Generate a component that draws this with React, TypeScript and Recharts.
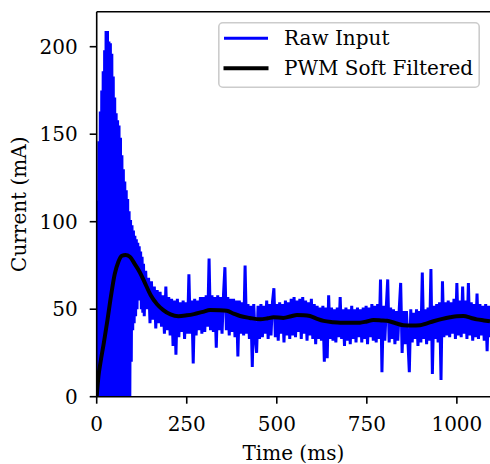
import React from 'react';
import { ComposedChart, Line, XAxis, YAxis, ReferenceLine, Legend, Label } from 'recharts';

// start-up ripple, one sample every 2 ms from t = 0 to 132 ms
const START_DT = 2;
const startCurrent: number[] = [
  1, 112, 0, 146, 0, 163, 0, 175, 0, 186,
  0, 198, 0, 209, 0, 209, 0, 203, 0, 202,
  0, 196, 0, 183, 0, 171, 0, 162, 0, 158,
  0, 155, 0, 148, 0, 138, 0, 130, 0, 123,
  0, 118, 0, 113, 0, 106, 0, 101, 20, 98,
  38, 95, 42, 92, 46, 90, 50, 88, 55, 86,
  56, 83, 50, 80, 48, 76, 46,
];

// settled signal, one sample every 4 ms from t = 136 ms
const SETTLED_T0 = 136;
const SETTLED_DT = 4;
const settledCurrent: number[] = [
  72, 50, 68, 42, 66, 44, 63, 39, 61, 42,
  60, 40, 58, 36, 63, 38, 57, 35, 56, 29,
  55, 24, 56, 34, 54, 37, 55, 33, 54, 36,
  70, 36, 55, 19, 56, 35, 55, 38, 57, 36,
  57, 37, 58, 40, 79, 38, 58, 37, 57, 28,
  58, 38, 57, 36, 58, 74, 38, 57, 35, 56,
  37, 56, 34, 55, 23, 55, 36, 54, 35, 75,
  36, 53, 33, 52, 17, 53, 34, 25, 52, 33,
  53, 34, 52, 36, 55, 33, 53, 35, 54, 62,
  34, 53, 32, 54, 36, 53, 31, 55, 35, 54,
  33, 56, 35, 57, 34, 55, 37, 56, 33, 57,
  36, 55, 32, 54, 35, 56, 33, 53, 30, 52,
  33, 51, 32, 52, 20, 51, 22, 58, 33, 51,
  32, 50, 31, 51, 34, 57, 33, 50, 29, 51,
  32, 50, 30, 52, 33, 50, 31, 51, 34, 50,
  31, 51, 33, 52, 30, 51, 34, 53, 32, 52,
  31, 53, 33, 67, 14, 52, 32, 51, 67, 31,
  51, 33, 50, 30, 49, 32, 50, 65, 25, 49,
  30, 49, 32, 14, 50, 31, 48, 33, 50, 29,
  49, 31, 71, 33, 50, 30, 51, 32, 73, 13,
  52, 33, 53, 31, 54, 9.5, 66, 34, 54, 35,
  55, 34, 54, 36, 56, 33, 65, 35, 55, 34,
  63, 36, 55, 33, 65, 35, 54, 32, 53, 34,
  59, 33, 53, 35, 52, 32, 53, 26, 52, 34,
];

const filteredTime = [
  0, 5, 10, 20, 30, 40, 50, 60, 70, 80, 92, 105, 120, 135, 150, 167, 185, 205, 227, 250,
  270, 295, 315, 340, 361, 380, 398, 425, 454, 475, 491, 518, 540, 556, 575, 592, 612, 630,
  655, 676, 700, 731, 750, 768, 790, 806, 830, 852, 875, 898, 915, 935, 960, 981, 1000,
  1018, 1040, 1055, 1075, 1092,
];
const filteredCurrent = [
  0, 12, 19, 31, 44, 58, 70, 77, 80.5, 81, 80, 76, 71, 64.5, 58, 53, 49.5, 47, 46, 46.5,
  47.2, 48.5, 49.5, 49.4, 49.1, 47.5, 46.1, 45, 44.2, 44.8, 45.4, 45, 46, 46.7, 46.6, 46.1,
  44.5, 43.3, 42.6, 42.3, 42.3, 42.3, 43, 43.8, 43.6, 43.4, 42, 40.8, 40.7, 40.8, 41.8,
  43.1, 44.5, 45.4, 46, 46.1, 45, 44.2, 43.6, 43.1,
];

const xTicks = [0, 250, 500, 750, 1000];
const yTicks = [0, 50, 100, 150, 200];

const rawData = [
  ...startCurrent.map((v, i) => ({ t: i * START_DT, v })),
  ...settledCurrent.map((v, i) => ({ t: SETTLED_T0 + i * SETTLED_DT, v })),
];
const filteredData = filteredTime.map((t, i) => ({ t, v: filteredCurrent[i] }));

const FONT = 'DejaVu Serif';
const FS = 20;

const tickStyle = { fontFamily: FONT, fontSize: FS, fill: '#000' };

const XTitle = (props: any) => {
  const vb = props.viewBox ?? { x: 96.7, y: 396.7, width: 393.3, height: 67.3 };
  return (
    <text x={vb.x + vb.width / 2} y={vb.y + 62.8} textAnchor="middle"
      fontFamily={FONT} fontSize={FS} fill="#000">Time (ms)</text>
  );
};

const YTitle = (props: any) => {
  const vb = props.viewBox ?? { x: 0, y: 11.7, width: 96.7, height: 385 };
  const cx = 26;
  const cy = vb.y + vb.height / 2;
  return (
    <text x={cx} y={cy} textAnchor="middle" transform={`rotate(-90, ${cx}, ${cy})`}
      fontFamily={FONT} fontSize={FS} fill="#000">Current (mA)</text>
  );
};

const LegendBox = () => (
  <svg width={262} height={66} style={{ display: 'block' }}>
    <rect x={0.8} y={0.8} width={260.4} height={64.4} rx={4} fill="#fff" fillOpacity={0.8}
      stroke="#cccccc" strokeWidth={1.6} />
    <line x1={7.5} x2={48.5} y1={16.3} y2={16.3} stroke="#0000ff" strokeWidth={3} strokeLinecap="square" />
    <line x1={7.5} x2={48.5} y1={46.3} y2={46.3} stroke="#000" strokeWidth={4} strokeLinecap="square" />
    <text x={66} y={23} fontFamily={FONT} fontSize={FS} fill="#000">Raw Input</text>
    <text x={66} y={53} fontFamily={FONT} fontSize={FS} fill="#000">PWM Soft Filtered</text>
  </svg>
);

export default function App() {
  return (
    <div style={{ position: 'absolute', left: 0, top: 0, background: '#fff' }}>
      <ComposedChart width={490} height={464} margin={{ top: 11.7, right: 0, bottom: 0, left: 0 }}>
        <XAxis
          type="number"
          dataKey="t"
          domain={[0, 1092]}
          allowDataOverflow
          ticks={xTicks}
          height={67.3}
          tickSize={7}
          tickMargin={12.8}
          tick={tickStyle}
          axisLine={{ stroke: '#000', strokeWidth: 1.6 }}
          tickLine={{ stroke: '#000', strokeWidth: 1.6 }}
        >
          <Label content={XTitle} />
        </XAxis>
        <YAxis
          type="number"
          domain={[0, 220]}
          allowDataOverflow
          ticks={yTicks}
          width={96.7}
          tickSize={7}
          tickMargin={12}
          tick={tickStyle}
          axisLine={{ stroke: '#000', strokeWidth: 1.6 }}
          tickLine={{ stroke: '#000', strokeWidth: 1.6 }}
        >
          <Label content={YTitle} />
        </YAxis>
        <Legend
          layout="vertical"
          align="center"
          verticalAlign="middle"
          wrapperStyle={{ left: 218, top: 22, width: 262, height: 66 }}
          content={() => <LegendBox />}
        />
        {/* bevel joins keep the dense start-up ripple solid */}
        <Line
          data={rawData}
          dataKey="v"
          type="linear"
          stroke="#0000ff"
          strokeWidth={3}
          strokeLinejoin="bevel"
          dot={false}
          activeDot={false}
          isAnimationActive={false}
          name="Raw Input"
        />
        <Line
          data={filteredData}
          dataKey="v"
          type="monotone"
          stroke="#000"
          strokeWidth={4}
          strokeLinejoin="round"
          dot={false}
          activeDot={false}
          isAnimationActive={false}
          name="PWM Soft Filtered"
        />
        <ReferenceLine y={220} stroke="#000" strokeWidth={1.6} />
      </ComposedChart>
    </div>
  );
}
